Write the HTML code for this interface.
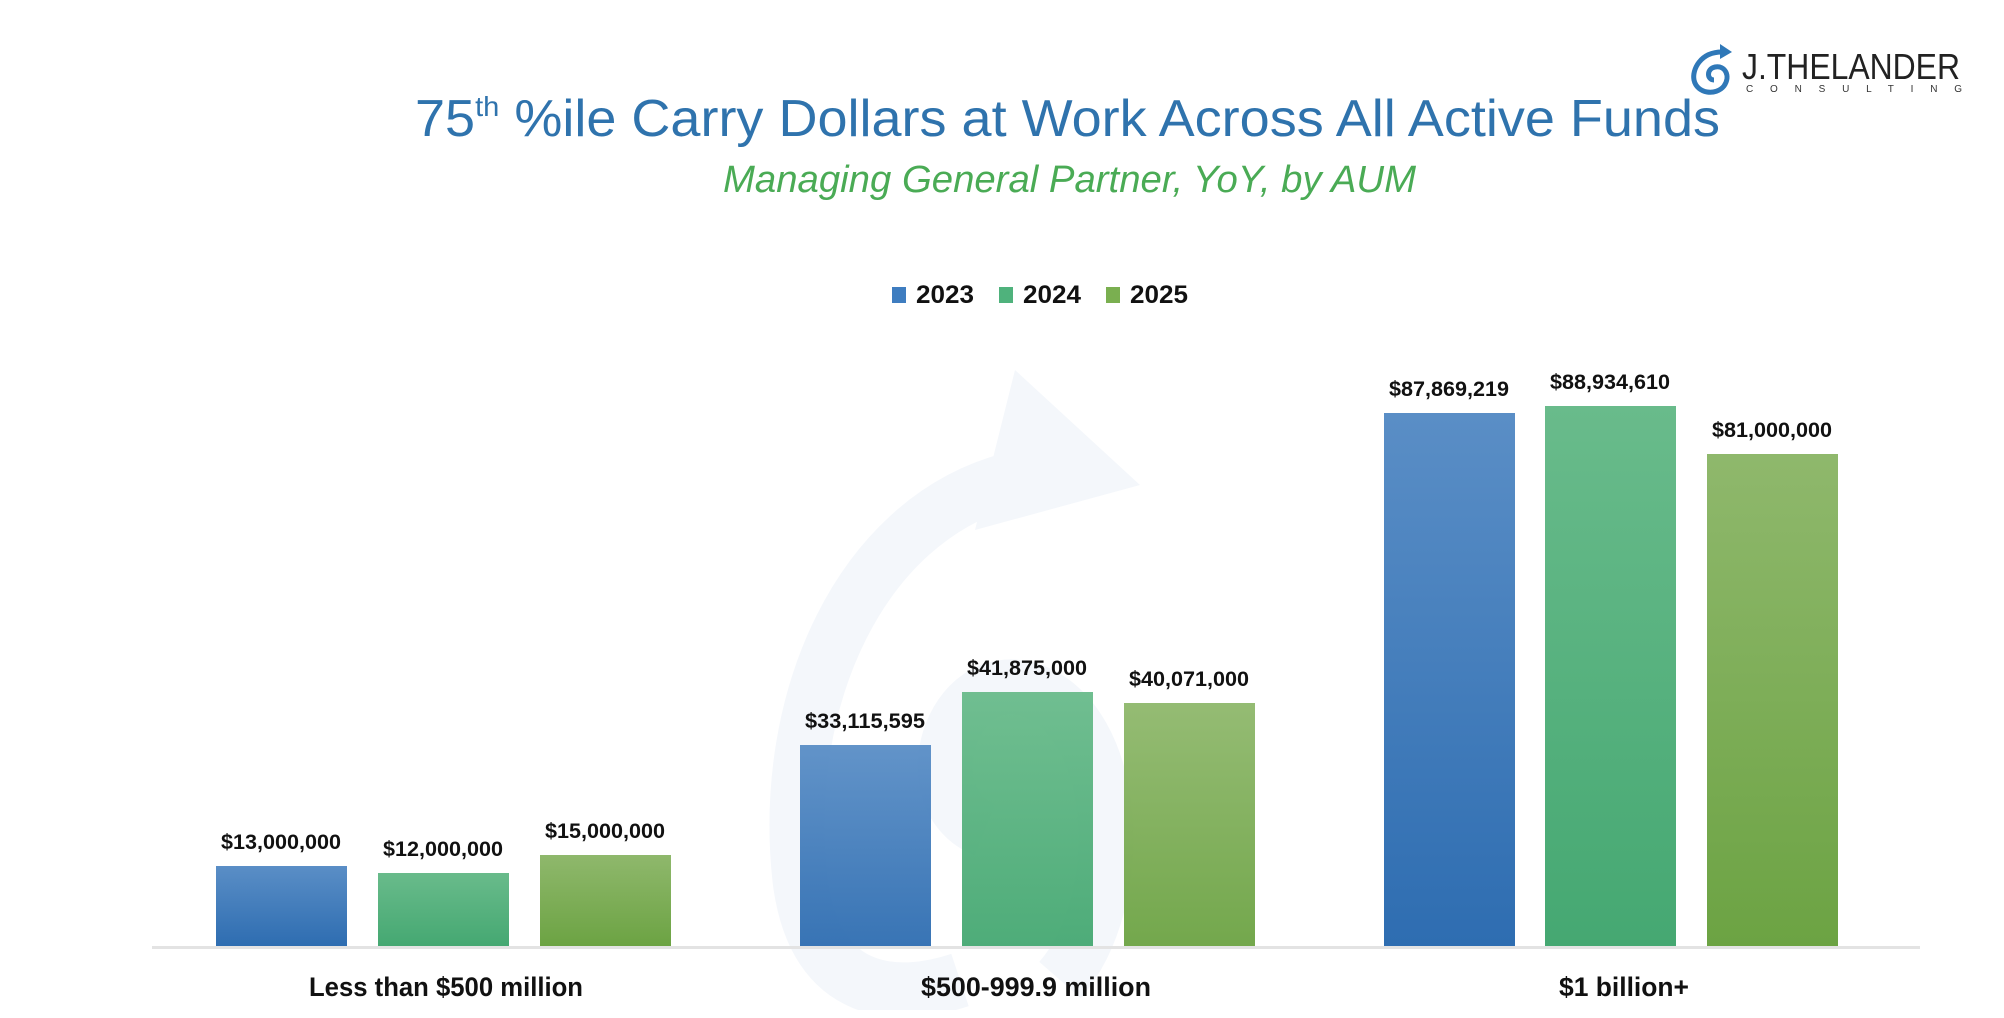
<!DOCTYPE html>
<html><head><meta charset="utf-8"><style>
html,body{margin:0;padding:0;background:#fff;width:2004px;height:1018px;overflow:hidden}
svg{display:block}
text{font-family:"Liberation Sans",sans-serif}
</style></head><body>
<svg width="2004" height="1018" viewBox="0 0 2004 1018" xmlns="http://www.w3.org/2000/svg">
<defs>
<linearGradient id="gb" x1="0" y1="0" x2="0" y2="1"><stop offset="0" stop-color="#5a8ec6"/><stop offset="1" stop-color="#2e6db1"/></linearGradient>
<linearGradient id="gg" x1="0" y1="0" x2="0" y2="1"><stop offset="0" stop-color="#69bb8b"/><stop offset="1" stop-color="#45a872"/></linearGradient>
<linearGradient id="go" x1="0" y1="0" x2="0" y2="1"><stop offset="0" stop-color="#8fb86c"/><stop offset="1" stop-color="#6ca343"/></linearGradient>
<clipPath id="cp"><rect x="0" y="0" width="2004" height="1010"/></clipPath>
</defs>
<!-- watermark -->
<g fill="none" stroke="#f4f7fb" stroke-width="55" clip-path="url(#cp)">
<path d="M1010 480 C860 520 780 700 800 880 C815 1000 900 1000 960 980"/>
<path d="M1060 980 C1130 900 1120 720 1030 690 C950 665 910 800 985 830"/>
</g>
<path d="M1015 370 L1140 485 L975 530 Z" fill="#f4f7fb"/>
<!-- logo -->
<g fill="none" stroke="#2f78b8" stroke-width="5">
<path d="M1722 52 C1700 52 1692 70 1694 80 C1697 94 1716 96 1724 86 C1731 76 1725 65 1715 67 C1706 69 1707 80 1714 80"/>
</g>
<path d="M1720 44 L1732 52 L1720 59 Z" fill="#2f78b8"/>
<text x="1742" y="79" font-size="36" fill="#222" textLength="218" lengthAdjust="spacingAndGlyphs">J.THELANDER</text>
<text x="1746" y="92" font-size="10" fill="#333" textLength="216" lengthAdjust="spacing">CONSULTING</text>
<!-- titles -->
<text x="415" y="136" font-size="52" fill="#2f73ad" textLength="1305" lengthAdjust="spacingAndGlyphs">75<tspan font-size="28" dy="-20">th</tspan><tspan dy="20"> %ile Carry Dollars at Work Across All Active Funds</tspan></text>
<text x="723" y="192" font-size="38" font-style="italic" fill="#4aab55" textLength="693" lengthAdjust="spacingAndGlyphs">Managing General Partner, YoY, by AUM</text>
<!-- legend -->
<rect x="892" y="287" width="14" height="16" fill="#3e7dc0"/>
<text x="916" y="303" font-size="25" font-weight="bold" fill="#111" textLength="58" lengthAdjust="spacingAndGlyphs">2023</text>
<rect x="999" y="287" width="14" height="16" fill="#4fb27c"/>
<text x="1023" y="303" font-size="25" font-weight="bold" fill="#111" textLength="58" lengthAdjust="spacingAndGlyphs">2024</text>
<rect x="1106" y="287" width="14" height="16" fill="#7aaf50"/>
<text x="1130" y="303" font-size="25" font-weight="bold" fill="#111" textLength="58" lengthAdjust="spacingAndGlyphs">2025</text>
<!-- axis -->
<line x1="152" y1="947.5" x2="1920" y2="947.5" stroke="#e3e3e3" stroke-width="3"/>
<!-- bars -->
<rect x="216" y="866" width="131" height="80" fill="url(#gb)"/>
<rect x="378" y="873" width="131" height="73" fill="url(#gg)"/>
<rect x="540" y="855" width="131" height="91" fill="url(#go)"/>
<rect x="800" y="745" width="131" height="201" fill="url(#gb)" opacity="0.95"/>
<rect x="962" y="692" width="131" height="254" fill="url(#gg)" opacity="0.95"/>
<rect x="1124" y="703" width="131" height="243" fill="url(#go)" opacity="0.95"/>
<rect x="1384" y="413" width="131" height="533" fill="url(#gb)"/>
<rect x="1545" y="406" width="131" height="540" fill="url(#gg)"/>
<rect x="1707" y="454" width="131" height="492" fill="url(#go)"/>
<!-- value labels -->
<g font-size="21" font-weight="bold" fill="#111" text-anchor="middle">
<text x="281" y="849" textLength="120" lengthAdjust="spacingAndGlyphs">$13,000,000</text>
<text x="443" y="856" textLength="120" lengthAdjust="spacingAndGlyphs">$12,000,000</text>
<text x="605" y="838" textLength="120" lengthAdjust="spacingAndGlyphs">$15,000,000</text>
<text x="865" y="728" textLength="120" lengthAdjust="spacingAndGlyphs">$33,115,595</text>
<text x="1027" y="675" textLength="120" lengthAdjust="spacingAndGlyphs">$41,875,000</text>
<text x="1189" y="686" textLength="120" lengthAdjust="spacingAndGlyphs">$40,071,000</text>
<text x="1449" y="396" textLength="120" lengthAdjust="spacingAndGlyphs">$87,869,219</text>
<text x="1610" y="389" textLength="120" lengthAdjust="spacingAndGlyphs">$88,934,610</text>
<text x="1772" y="437" textLength="120" lengthAdjust="spacingAndGlyphs">$81,000,000</text>
</g>
<!-- category labels -->
<g font-size="27" font-weight="bold" fill="#111" text-anchor="middle">
<text x="446" y="996" textLength="274" lengthAdjust="spacingAndGlyphs">Less than $500 million</text>
<text x="1036" y="996" textLength="230" lengthAdjust="spacingAndGlyphs">$500-999.9 million</text>
<text x="1624" y="996" textLength="130" lengthAdjust="spacingAndGlyphs">$1 billion+</text>
</g>
</svg>
</body></html>
